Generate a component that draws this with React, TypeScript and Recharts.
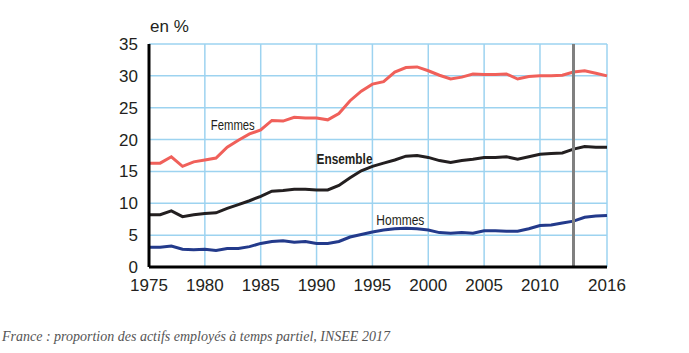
import { LineChart, Line, XAxis, YAxis, CartesianGrid, ReferenceLine, ReferenceDot } from "recharts";

const years = Array.from({ length: 42 }, (_, i) => 1975 + i);

const femmes = [
  16.3, 16.3, 17.3, 15.8, 16.5, 16.8, 17.1, 18.8, 19.9, 20.9,
  21.5, 23.0, 22.9, 23.5, 23.4, 23.4, 23.1, 24.1, 26.1, 27.6,
  28.7, 29.1, 30.6, 31.3, 31.4, 30.8, 30.1, 29.5, 29.8, 30.3,
  30.2, 30.2, 30.3, 29.5, 29.9, 30.0, 30.0, 30.1, 30.6, 30.8,
  30.4, 30.0,
];

const ensemble = [
  8.2, 8.2, 8.8, 7.9, 8.2, 8.4, 8.5, 9.2, 9.8, 10.4,
  11.1, 11.9, 12.0, 12.2, 12.2, 12.1, 12.1, 12.8, 14.0, 15.1,
  15.8, 16.3, 16.8, 17.4, 17.5, 17.2, 16.7, 16.4, 16.7, 16.9,
  17.2, 17.2, 17.3, 16.9, 17.3, 17.7, 17.8, 17.9, 18.5, 18.9,
  18.8, 18.8,
];

const hommes = [
  3.1, 3.1, 3.3, 2.8, 2.7, 2.8, 2.6, 2.9, 2.9, 3.2,
  3.7, 4.0, 4.1, 3.9, 4.0, 3.7, 3.7, 4.0, 4.7, 5.1,
  5.5, 5.8, 6.0, 6.1, 6.0, 5.8, 5.4, 5.3, 5.4, 5.3,
  5.7, 5.7, 5.6, 5.6, 6.0, 6.5, 6.6, 6.9, 7.2, 7.8,
  8.0, 8.1,
];

const xTicks = [1975, 1980, 1985, 1990, 1995, 2000, 2005, 2010, 2016];
const yTicks = [0, 5, 10, 15, 20, 25, 30, 35];

const data = years.map((year, i) => ({
  year,
  femmes: femmes[i],
  ensemble: ensemble[i],
  hommes: hommes[i],
}));

const FONT = "'Liberation Sans Narrow', 'Liberation Sans', Arial, sans-serif";

// series names written straight on the plot, squeezed like the condensed original
const seriesLabel = (text: string, len: number, bold = false) => (props: any) => {
  const { viewBox } = props;
  return (
    <text
      x={viewBox.x + (viewBox.width || 0) / 2}
      y={viewBox.y + (viewBox.height || 0) / 2}
      textAnchor="middle"
      dominantBaseline="central"
      fontFamily={FONT}
      fontSize={15}
      fontWeight={bold ? 700 : 400}
      fill="#231f20"
      textLength={len}
      lengthAdjust="spacingAndGlyphs"
    >
      {text}
    </text>
  );
};

export default function App() {
  return (
    <div style={{ position: "absolute", left: 0, top: 0, width: 689, height: 353, background: "#fff" }}>
      <div
        style={{
          position: "absolute",
          left: 150,
          top: 17,
          fontFamily: FONT,
          fontSize: 17,
          color: "#231f20",
        }}
      >
        en %
      </div>
      <LineChart
        width={689}
        height={300}
        data={data}
        margin={{ top: 44, right: 82, left: 0, bottom: 0 }}
      >
        <CartesianGrid stroke="#9dd3f0" strokeWidth={1.5} />
        <XAxis
          dataKey="year"
          type="number"
          domain={[1975, 2016]}
          ticks={xTicks}
          interval={0}
          height={33}
          tickLine={false}
          tickMargin={6}
          axisLine={{ stroke: "#000", strokeWidth: 3 }}
          tick={{ fill: "#231f20", fontSize: 17, fontFamily: FONT }}
        />
        <YAxis
          type="number"
          domain={[0, 35]}
          ticks={yTicks}
          interval={0}
          width={149}
          tickLine={false}
          tickMargin={5}
          axisLine={{ stroke: "#000", strokeWidth: 3 }}
          tick={{ fill: "#231f20", fontSize: 17, fontFamily: FONT }}
        />
        <Line dataKey="femmes" stroke="#f0605a" strokeWidth={3} dot={false} isAnimationActive={false} />
        <Line dataKey="ensemble" stroke="#231f20" strokeWidth={3} dot={false} isAnimationActive={false} />
        <Line dataKey="hommes" stroke="#233a8b" strokeWidth={3} dot={false} isAnimationActive={false} />
        <ReferenceLine x={2013} stroke="#808080" strokeWidth={3} />
        <ReferenceDot x={1982.5} y={22.3} r={0} label={seriesLabel("Femmes", 44)} />
        <ReferenceDot x={1992.5} y={17.1} r={0} label={seriesLabel("Ensemble", 56, true)} />
        <ReferenceDot x={1997.5} y={7.4} r={0} label={seriesLabel("Hommes", 48)} />
      </LineChart>
      <div
        style={{
          position: "absolute",
          left: 2,
          top: 329,
          fontFamily: "'Liberation Serif', serif",
          fontStyle: "italic",
          fontSize: 14,
          color: "#555",
        }}
      >
        France : proportion des actifs employés à temps partiel, INSEE 2017
      </div>
    </div>
  );
}
